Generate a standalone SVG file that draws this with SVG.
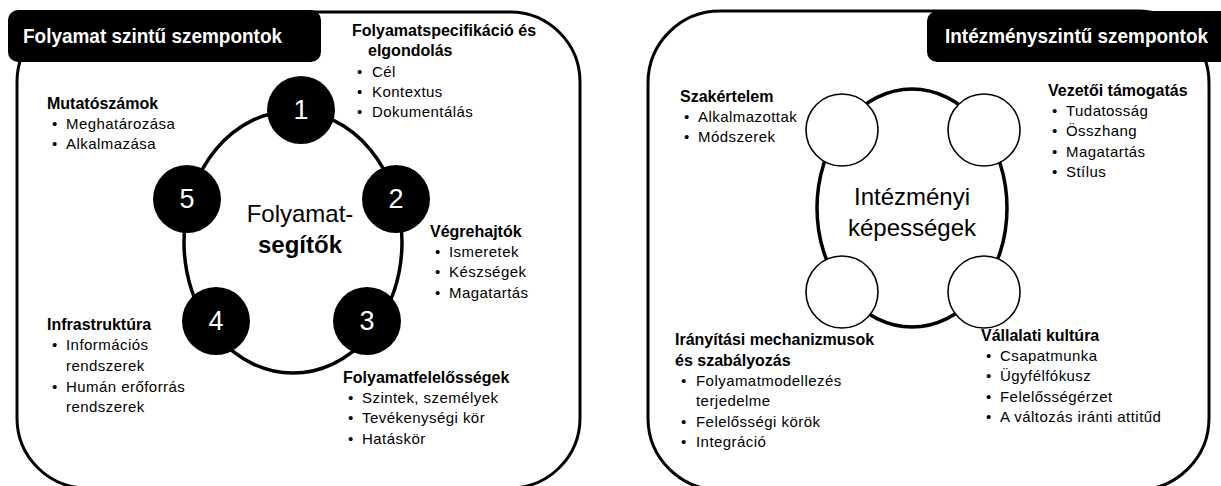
<svg xmlns="http://www.w3.org/2000/svg" width="1221" height="486" viewBox="0 0 1221 486">
  <style>
    .frame { fill: none; stroke: #000; stroke-width: 3; }
    .tab { fill: #000; }
    .tabtxt { font-family: "Liberation Sans", Arial, sans-serif; font-weight: bold; font-size: 20px; fill: #fff; }
    .ring { fill: none; stroke: #000; stroke-width: 3.5; }
    .dot { fill: #000; }
    .hollow { fill: #fff; stroke: #000; stroke-width: 1.6; }
    .num { font-family: "Liberation Sans", Arial, sans-serif; font-size: 27px; fill: #fff; text-anchor: middle; }
    .core { font-family: "Liberation Sans", Arial, sans-serif; font-size: 24px; fill: #000; text-anchor: middle; }
    .hd { font-family: "Liberation Sans", Arial, sans-serif; font-weight: bold; font-size: 16px; fill: #000; }
    .it { font-family: "Liberation Sans", Arial, sans-serif; font-size: 15px; fill: #000; letter-spacing: 0.45px; }
  </style>

  <!-- left panel: process level -->
  <g id="left-panel">
    <rect class="frame" x="17" y="12" width="563" height="476" rx="70"/>
    <rect class="tab" x="8" y="10" width="313" height="52" rx="10"/>
    <text class="tabtxt" x="23" y="43" textLength="259" lengthAdjust="spacingAndGlyphs">Folyamat szintű szempontok</text>
  </g>

  <g id="left-connectors">
    <ellipse class="ring" cx="293" cy="242" rx="109" ry="131"/>
  </g>

  <g id="left-core">
    <text class="core" x="300" y="222">Folyamat-</text>
    <text class="core" x="300" y="253" font-weight="bold">segítők</text>
  </g>

  <g id="step-1">
    <circle class="dot" cx="301" cy="110" r="34"/>
    <text class="num" x="301" y="119">1</text>
  </g>
  <g id="step-2">
    <circle class="dot" cx="396" cy="199" r="34"/>
    <text class="num" x="396" y="208">2</text>
  </g>
  <g id="step-3">
    <circle class="dot" cx="367" cy="321" r="34"/>
    <text class="num" x="367" y="330">3</text>
  </g>
  <g id="step-4">
    <circle class="dot" cx="216" cy="321" r="34"/>
    <text class="num" x="216" y="330">4</text>
  </g>
  <g id="step-5">
    <circle class="dot" cx="187" cy="199" r="34"/>
    <text class="num" x="187" y="208">5</text>
  </g>

  <g id="label-spec">
    <text class="hd" x="352" y="36">Folyamatspecifikáció és</text>
    <text class="hd" x="368" y="56">elgondolás</text>
    <text class="it" x="357" y="77">•<tspan x="372">Cél</tspan></text>
    <text class="it" x="357" y="97">•<tspan x="372">Kontextus</tspan></text>
    <text class="it" x="357" y="117">•<tspan x="372">Dokumentálás</tspan></text>
  </g>
  <g id="label-metrics">
    <text class="hd" x="47" y="109">Mutatószámok</text>
    <text class="it" x="52" y="129">•<tspan x="66">Meghatározása</tspan></text>
    <text class="it" x="52" y="149">•<tspan x="66">Alkalmazása</tspan></text>
  </g>
  <g id="label-performers">
    <text class="hd" x="430" y="237">Végrehajtók</text>
    <text class="it" x="435" y="257">•<tspan x="449">Ismeretek</tspan></text>
    <text class="it" x="435" y="277">•<tspan x="449">Készségek</tspan></text>
    <text class="it" x="435" y="298">•<tspan x="449">Magatartás</tspan></text>
  </g>
  <g id="label-infra">
    <text class="hd" x="47" y="330">Infrastruktúra</text>
    <text class="it" x="52" y="350">•<tspan x="66">Információs</tspan></text>
    <text class="it" x="66" y="371">rendszerek</text>
    <text class="it" x="52" y="392">•<tspan x="66">Humán erőforrás</tspan></text>
    <text class="it" x="66" y="412">rendszerek</text>
  </g>
  <g id="label-responsibility">
    <text class="hd" x="343" y="383">Folyamatfelelősségek</text>
    <text class="it" x="348" y="403">•<tspan x="362">Szintek, személyek</tspan></text>
    <text class="it" x="348" y="423">•<tspan x="362">Tevékenységi kör</tspan></text>
    <text class="it" x="348" y="444">•<tspan x="362">Hatáskör</tspan></text>
  </g>

  <!-- right panel: institution level -->
  <g id="right-panel">
    <rect class="frame" x="648" y="11" width="561" height="479" rx="72"/>
    <rect class="tab" x="927" y="11" width="310" height="51" rx="10"/>
    <text class="tabtxt" x="945" y="43" textLength="263" lengthAdjust="spacingAndGlyphs">Intézményszintű szempontok</text>
  </g>

  <g id="right-connectors">
    <ellipse class="ring" cx="912" cy="208" rx="95" ry="119"/>
  </g>

  <g id="pillar-ul"><circle class="hollow" cx="842" cy="130" r="36"/></g>
  <g id="pillar-ur"><circle class="hollow" cx="984" cy="130" r="36"/></g>
  <g id="pillar-ll"><circle class="hollow" cx="842" cy="292" r="36"/></g>
  <g id="pillar-lr"><circle class="hollow" cx="984" cy="292" r="36"/></g>

  <g id="right-core">
    <text class="core" x="912" y="205">Intézményi</text>
    <text class="core" x="912" y="236">képességek</text>
  </g>

  <g id="label-expertise">
    <text class="hd" x="680" y="102">Szakértelem</text>
    <text class="it" x="684" y="122">•<tspan x="698">Alkalmazottak</tspan></text>
    <text class="it" x="684" y="142">•<tspan x="698">Módszerek</tspan></text>
  </g>
  <g id="label-leadership">
    <text class="hd" x="1048" y="96">Vezetői támogatás</text>
    <text class="it" x="1052" y="116">•<tspan x="1066">Tudatosság</tspan></text>
    <text class="it" x="1052" y="136">•<tspan x="1066">Összhang</tspan></text>
    <text class="it" x="1052" y="157">•<tspan x="1066">Magatartás</tspan></text>
    <text class="it" x="1052" y="177">•<tspan x="1066">Stílus</tspan></text>
  </g>
  <g id="label-governance">
    <text class="hd" x="675" y="345">Irányítási mechanizmusok</text>
    <text class="hd" x="675" y="366">és szabályozás</text>
    <text class="it" x="681" y="386">•<tspan x="696">Folyamatmodellezés</tspan></text>
    <text class="it" x="696" y="406">terjedelme</text>
    <text class="it" x="681" y="427">•<tspan x="696">Felelősségi körök</tspan></text>
    <text class="it" x="681" y="447">•<tspan x="696">Integráció</tspan></text>
  </g>
  <g id="label-culture">
    <text class="hd" x="981" y="341">Vállalati kultúra</text>
    <text class="it" x="986" y="361">•<tspan x="1000">Csapatmunka</tspan></text>
    <text class="it" x="986" y="381">•<tspan x="1000">Ügyfélfókusz</tspan></text>
    <text class="it" x="986" y="402">•<tspan x="1000">Felelősségérzet</tspan></text>
    <text class="it" x="986" y="422">•<tspan x="1000">A változás iránti attitűd</tspan></text>
  </g>
</svg>
